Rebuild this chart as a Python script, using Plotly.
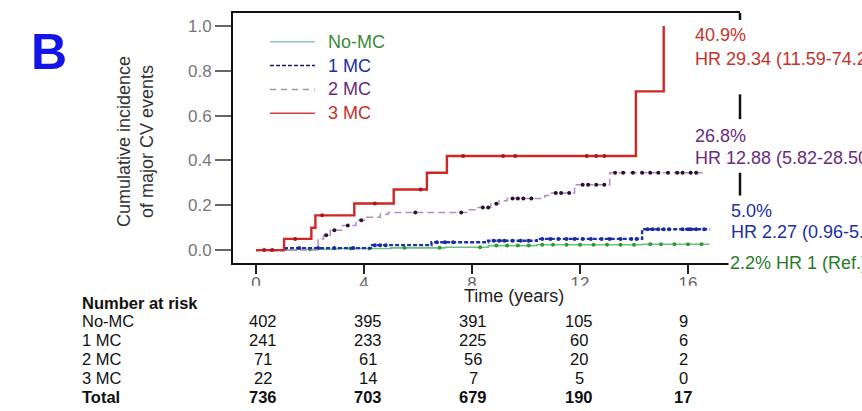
import plotly.graph_objects as go
import numpy as np

# ---------------- data ----------------
t_nomc = [0, 1.5, 3.0, 5.0, 7.0, 8.6, 10.4, 14.3, 16.8]
v_nomc = [0, 0.004, 0.007, 0.010, 0.013, 0.020, 0.024, 0.026, 0.026]
t_1mc = [0, 1.1, 4.3, 6.5, 8.6, 10.4, 14.3, 16.8]
v_1mc = [0, 0.009, 0.022, 0.035, 0.042, 0.050, 0.093, 0.093]
t_2mc = [0, 2.3, 2.5, 2.75, 3.2, 3.7, 4.1, 4.6, 4.9, 7.9, 8.2, 8.7, 9.0, 9.3, 10.7, 10.9, 11.8, 13.1, 16.6]
v_2mc = [0, 0.050, 0.066, 0.088, 0.110, 0.133, 0.146, 0.160, 0.168, 0.180, 0.190, 0.207, 0.220, 0.230,
         0.243, 0.255, 0.292, 0.345, 0.345]
t_3mc = [0, 1.04, 2.05, 2.2, 3.64, 5.1, 6.33, 7.07, 14.07, 15.1]
v_3mc = [0, 0.050, 0.100, 0.155, 0.208, 0.270, 0.345, 0.420, 0.708, 1.0]

# censoring times
c_nomc = [2.0, 3.5, 4.2, 5.5, 6.8, 8.3, 8.9, 9.3, 9.7, 10.1, 10.6, 11.0, 11.5, 12.0, 12.5, 13.0,
          13.5, 14.0, 14.6, 15.0, 15.5, 16.0, 16.5]
c_1mc = [1.6, 2.3, 2.9, 3.6, 4.4, 4.6, 4.8, 6.7, 7.0, 7.3, 8.8, 9.0, 9.2, 9.5, 9.8, 10.1, 10.6, 10.9,
         11.2, 11.5, 11.8, 12.1, 12.4, 12.8, 13.1, 13.5, 13.9, 14.1, 14.5, 14.7, 14.9, 15.1, 15.3,
         15.8, 16.0, 16.1, 16.3, 16.6]
c_2mc = [2.6, 2.9, 3.4, 3.9, 5.9, 7.6, 8.4, 8.6, 8.9, 9.5, 9.7, 9.9, 10.2, 11.1, 11.3, 11.6, 12.1,
         12.3, 12.6, 12.9, 13.3, 13.6, 13.96, 14.3, 14.6, 14.9, 15.26, 15.6, 15.8, 16.1, 16.3]
c_3mc = [0.3, 0.6, 1.45, 2.45, 4.4, 6.1, 7.67, 9.15, 9.6, 12.25, 12.6, 12.9]

x_ticks = [0, 4, 8, 12, 16]
y_ticks = [0.0, 0.2, 0.4, 0.6, 0.8, 1.0]
y_ticktext = ["0.0", "0.2", "0.4", "0.6", "0.8", "1.0"]

risk_groups = ["No-MC", "1 MC", "2 MC", "3 MC", "Total"]
risk_nomc = [402, 395, 391, 105, 9]
risk_1mc = [241, 233, 225, 60, 6]
risk_2mc = [71, 61, 56, 20, 2]
risk_3mc = [22, 14, 7, 5, 0]
risk_total = [736, 703, 679, 190, 17]

end_pct = ["40.9%", "26.8%", "5.0%", "2.2%"]
end_hr = ["HR 29.34 (11.59-74.28)", "HR 12.88 (5.82-28.50)", "HR 2.27 (0.96-5.37)", "HR 1 (Ref.)"]

# ---------------- layout helpers ----------------
W, H = 862, 411
L, R, T, B = 233, 740, 11, 263
FONT = "Arial, Liberation Sans, sans-serif"


def xp(px):
    return (px - L) / (R - L)


def yp(py):
    return (B - py) / (B - T)


def step_at(ts, vs, cs):
    ts = np.asarray(ts)
    vs = np.asarray(vs)
    idx = np.searchsorted(ts, np.asarray(cs), side="right") - 1
    return vs[idx]


fig = go.Figure()

series = [
    (t_nomc, v_nomc, c_nomc, "#6cbf80", 1.6, "solid", "#2e9a35"),
    (t_1mc, v_1mc, c_1mc, "#1f2fae", 2.4, "4px,2px", "#1a2aa0"),
    (t_2mc, v_2mc, c_2mc, "#b58ac4", 1.5, "7px,4px", "#2a0f2e"),
    (t_3mc, v_3mc, c_3mc, "#cf2626", 2.4, "solid", "#b01515"),
]
for ts, vs, cs, col, w, dash, mcol in series:
    fig.add_trace(go.Scatter(x=ts, y=vs, mode="lines",
                             line=dict(shape="hv", color=col, width=w, dash=dash),
                             showlegend=False, hoverinfo="skip"))
    fig.add_trace(go.Scatter(x=cs, y=step_at(ts, vs, cs), mode="markers",
                             marker=dict(symbol="circle", size=4, color=mcol),
                             showlegend=False, hoverinfo="skip"))

shapes = []
annotations = []

# white band that clips the x tick labels like the original
shapes.append(dict(type="rect", xref="paper", yref="paper", x0=xp(0), x1=xp(W),
                   y0=yp(H), y1=yp(286), fillcolor="white", line=dict(width=0), layer="above"))

# right border fragments
for y0, y1 in [(11, 18), (93, 118), (172, 195)]:
    shapes.append(dict(type="line", xref="paper", yref="paper", x0=xp(740), x1=xp(740),
                       y0=yp(y0), y1=yp(y1), line=dict(color="#111", width=2.5), layer="above"))

# legend
leg_names = ["No-MC", "1 MC", "2 MC", "3 MC"]
leg_y = [40, 64, 88, 112]
leg_line = [("#8cc9c0", 1.5, "solid"), ("#1a1a60", 1.5, "4px,2px"),
            ("#9a9a9a", 1.5, "6px,5px"), ("#d04040", 1.5, "solid")]
leg_txt = ["#3a8a3a", "#2030a0", "#6a2a7e", "#c4322a"]
for name, y, (lc, lw, ld), tc in zip(leg_names, leg_y, leg_line, leg_txt):
    shapes.append(dict(type="line", xref="paper", yref="paper", x0=xp(270), x1=xp(315),
                       y0=yp(y), y1=yp(y), line=dict(color=lc, width=lw, dash=ld)))
    annotations.append(dict(text=name, xref="paper", yref="paper", x=xp(326), y=yp(y),
                            xanchor="left", yanchor="middle", showarrow=False,
                            font=dict(family=FONT, size=18, color=tc)))

# end labels
end_cols = ["#c4322a", "#6a2a7e", "#2030a0", "#2a7a2a"]
end_pos = [(693, 33, 57), (693, 135, 157), (729, 211, 232)]
for i, (x, y1, y2) in enumerate(end_pos):
    annotations.append(dict(text=end_pct[i], xref="paper", yref="paper", x=xp(x), y=yp(y1),
                            xanchor="left", yanchor="middle", showarrow=False,
                            font=dict(family=FONT, size=18, color=end_cols[i])))
    annotations.append(dict(text=end_hr[i], xref="paper", yref="paper", x=xp(x), y=yp(y2),
                            xanchor="left", yanchor="middle", showarrow=False,
                            font=dict(family=FONT, size=18, color=end_cols[i])))
annotations.append(dict(text=end_pct[3] + " " + end_hr[3], xref="paper", yref="paper",
                        x=xp(728), y=yp(263), xanchor="left", yanchor="middle", showarrow=False,
                        bgcolor="white", borderpad=1,
                        font=dict(family=FONT, size=18, color=end_cols[3])))

# panel letter
annotations.append(dict(text="<b>B</b>", xref="paper", yref="paper", x=xp(49), y=yp(50),
                        xanchor="center", yanchor="middle", showarrow=False,
                        font=dict(family=FONT, size=50, color="#1414e6")))

# y-axis title
annotations.append(dict(text="Cumulative incidence<br>of major CV events", xref="paper", yref="paper",
                        x=xp(136), y=yp(141), xanchor="center", yanchor="middle", textangle=-90,
                        showarrow=False, font=dict(family=FONT, size=18, color="#333")))

# x-axis title
annotations.append(dict(text="Time (years)", xref="paper", yref="paper", x=xp(514), y=yp(296),
                        xanchor="center", yanchor="middle", showarrow=False,
                        font=dict(family=FONT, size=18, color="#222")))

# number at risk table
annotations.append(dict(text="<b>Number at risk</b>", xref="paper", yref="paper", x=xp(80), y=yp(303),
                        xanchor="left", yanchor="middle", showarrow=False,
                        font=dict(family=FONT, size=16.5, color="#111")))
row_y = [321, 341, 360, 379, 398]
col_x = [263, 368, 473, 579, 683]
rows = [risk_nomc, risk_1mc, risk_2mc, risk_3mc, risk_total]
for g, vals, y in zip(risk_groups, rows, row_y):
    bold = g == "Total"
    fmt = (lambda s: f"<b>{s}</b>") if bold else (lambda s: str(s))
    annotations.append(dict(text=fmt(g), xref="paper", yref="paper", x=xp(80), y=yp(y),
                            xanchor="left", yanchor="middle", showarrow=False,
                            font=dict(family=FONT, size=16.5, color="#111")))
    for v, x in zip(vals, col_x):
        annotations.append(dict(text=fmt(v), xref="paper", yref="paper", x=xp(x), y=yp(y),
                                xanchor="center", yanchor="middle", showarrow=False,
                                font=dict(family=FONT, size=16.5, color="#111")))

x_lo = (L - 256) / 27.0
x_hi = (R - 256) / 27.0
y_lo = -(B - 250) / 226.0
y_hi = (250 - T) / 226.0

fig.update_layout(
    width=W, height=H,
    margin=dict(l=L, r=W - R, t=T, b=H - B, pad=0),
    paper_bgcolor="white", plot_bgcolor="white",
    showlegend=False,
    shapes=shapes, annotations=annotations,
    xaxis=dict(range=[x_lo, x_hi], tickvals=x_ticks, ticks="outside", ticklen=9, tickwidth=2,
               tickcolor="#222", showline=True, linecolor="#111", linewidth=2, mirror=True,
               showgrid=False, zeroline=False, ticklabelstandoff=-5,
               tickfont=dict(family=FONT, size=17, color="#666")),
    yaxis=dict(range=[y_lo, y_hi], tickvals=y_ticks, ticktext=y_ticktext, ticks="outside",
               ticklen=16, tickwidth=1.5, tickcolor="#666", showline=True, linecolor="#111",
               linewidth=2, mirror=False, showgrid=False, zeroline=False,
               tickfont=dict(family=FONT, size=17, color="#777")),
)

fig.write_html("out.html", config={"displayModeBar": False},
               post_script="document.body.style.margin='0';document.body.style.overflow='hidden';")
